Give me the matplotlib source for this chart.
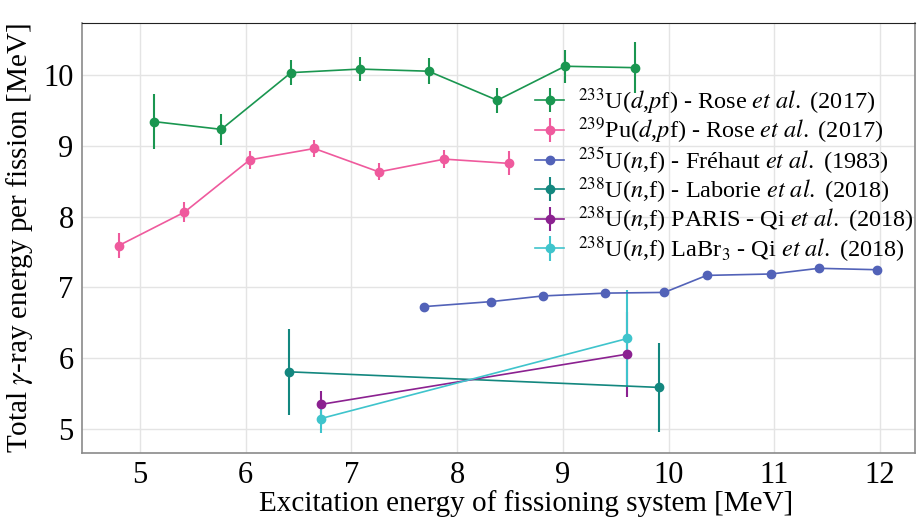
import matplotlib
matplotlib.use("Agg")
import matplotlib.pyplot as plt

plt.rcParams['font.family'] = ['Liberation Serif', 'DejaVu Serif']
plt.rcParams['mathtext.fontset'] = 'stix'

# 233U(d,pf) - Rose et al. (2017)
u233_x = [5.13, 5.77, 6.43, 7.08, 7.73, 8.38, 9.02, 9.68]
u233_y = [9.34, 9.23, 10.03, 10.08, 10.05, 9.64, 10.12, 10.10]
u233_e = [0.39, 0.22, 0.18, 0.17, 0.18, 0.18, 0.23, 0.36]

# 239Pu(d,pf) - Rose et al. (2017)
pu239_x = [4.80, 5.42, 6.04, 6.65, 7.26, 7.88, 8.49]
pu239_y = [7.59, 8.06, 8.80, 8.96, 8.63, 8.81, 8.75]
pu239_e = [0.18, 0.14, 0.13, 0.12, 0.12, 0.13, 0.17]

# 235U(n,f) - Frehaut et al. (1983)
u235_x = [7.69, 8.32, 8.81, 9.40, 9.96, 10.36, 10.97, 11.42, 11.97]
u235_y = [6.73, 6.80, 6.88, 6.92, 6.93, 7.17, 7.19, 7.27, 7.25]

# 238U(n,f) - Laborie et al. (2018)
lab_x = [6.41, 9.91]
lab_y = [5.81, 5.59]
lab_e = [0.61, 0.63]

# 238U(n,f) PARIS - Qi et al. (2018)
paris_x = [6.71, 9.61]
paris_y = [5.35, 6.06]
paris_e = [0.19, 0.60]

# 238U(n,f) LaBr3 - Qi et al. (2018)
labr_x = [6.71, 9.61]
labr_y = [5.15, 6.28]
labr_e = [0.20, 0.69]

labels = [
    r'$^{233}$U($d$,$p$f) - Rose $et\ al.$ (2017)',
    r'$^{239}$Pu($d$,$p$f) - Rose $et\ al.$ (2017)',
    r'$^{235}$U($n$,f) - Fréhaut $et\ al.$ (1983)',
    r'$^{238}$U($n$,f) - Laborie $et\ al.$ (2018)',
    r'$^{238}$U($n$,f) PARIS - Qi $et\ al.$ (2018)',
    r'$^{238}$U($n$,f) LaBr$_3$ - Qi $et\ al.$ (2018)',
]
colors = ['#1a9650', '#ef5a9d', '#5262b8', '#13877f', '#8b2190', '#3fc4cc']

fig = plt.figure(figsize=(9.18, 5.26), dpi=100)
ax = fig.add_axes([82/918, 1-453/526, (915-82)/918, (453-23)/526])

series = [
    (u233_x, u233_y, u233_e),
    (pu239_x, pu239_y, pu239_e),
    (u235_x, u235_y, None),
    (lab_x, lab_y, lab_e),
    (paris_x, paris_y, paris_e),
    (labr_x, labr_y, labr_e),
]
for (x, y, e), c, lab in zip(series, colors, labels):
    ax.errorbar(x, y, yerr=e, color=c, marker='o', markersize=6,
                linewidth=1.2, elinewidth=1.5, capsize=0, label=lab)

ax.set_xlim(4.453, 12.33)
ax.set_ylim(4.665, 10.73)
ax.set_xticks([5, 6, 7, 8, 9, 10, 11, 12])
ax.set_yticks([5, 6, 7, 8, 9, 10])
ax.grid(True, color='#e4e4e4', linewidth=1.0)
ax.set_axisbelow(True)
ax.tick_params(length=0, labelsize=22, pad=6, colors='black')
for s in ['left', 'bottom', 'right']:
    ax.spines[s].set_color('#8a8a8a')
    ax.spines[s].set_linewidth(1.2)
ax.spines['top'].set_color('#222222')

ax.set_xlabel('Excitation energy of fissioning system [MeV]', fontsize=21, labelpad=4)
ax.xaxis.set_label_coords((526-82)/833, -0.085)
ax.set_ylabel(r'Total $\gamma$-ray energy per fission [MeV]', fontsize=21, labelpad=6)

leg = ax.legend(loc='upper left', bbox_to_anchor=(535/918, 1-86/526),
                bbox_transform=fig.transFigure, frameon=False, fontsize=17.5,
                handlelength=1.2, handletextpad=0.55, labelspacing=-0.04,
                borderpad=0, borderaxespad=0)

fig.savefig('out.png', dpi=100)
